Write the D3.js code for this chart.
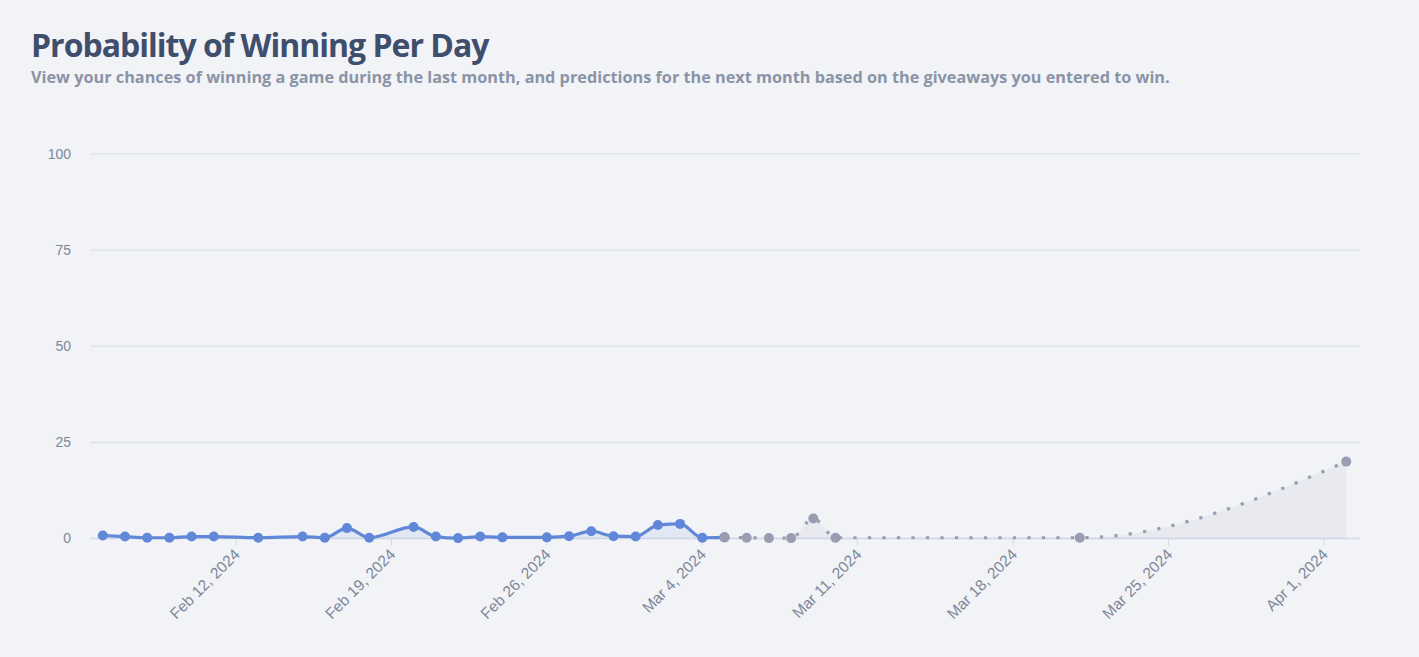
<!DOCTYPE html>
<html>
<head>
<meta charset="utf-8">
<script src="https://cdn.jsdelivr.net/npm/d3@7"></script>
<style>
  body { margin: 0; background: #f1f3f7; }
  svg text { font-family: "Liberation Sans", Arial, sans-serif; }
  .title { font-family: "Open Sans", sans-serif; font-weight: 700; }
</style>
</head>
<body>
<div id="chart"></div>
<script>
var width = 1419
var height = 657

// past month (blue) and prediction (grey), percent per day
const pastDates = ["2024-02-06","2024-02-07","2024-02-08","2024-02-09","2024-02-10","2024-02-11",
    "2024-02-13","2024-02-15","2024-02-16","2024-02-17","2024-02-18","2024-02-20","2024-02-21",
    "2024-02-22","2024-02-23","2024-02-24","2024-02-26","2024-02-27","2024-02-28","2024-02-29",
    "2024-03-01","2024-03-02","2024-03-03","2024-03-04","2024-03-05"];
const pastValues = [0.8, 0.5, 0.2, 0.2, 0.5, 0.5,
    0.2, 0.5, 0.2, 2.7, 0.2, 3.0, 0.5,
    0.1, 0.5, 0.3, 0.3, 0.6, 1.9, 0.6,
    0.5, 3.5, 3.8, 0.2, 0.3];
const predDates = ["2024-03-05","2024-03-06","2024-03-07","2024-03-08","2024-03-09","2024-03-10",
    "2024-03-21","2024-04-02"];
const predValues = [0.3, 0.2, 0.1, 0.1, 5.2, 0.2, 0.2, 20];
const yTicks = [0, 25, 50, 75, 100];
const xTickDates = ["2024-02-12","2024-02-19","2024-02-26","2024-03-04","2024-03-11","2024-03-18","2024-03-25","2024-04-01"];

const parse = d3.timeParse("%Y-%m-%d");
const fmt = d3.timeFormat("%b %-d, %Y");
const past = pastDates.map((d, i) => ({date: parse(d), value: pastValues[i]}));
const pred = predDates.map((d, i) => ({date: parse(d), value: predValues[i]}));

const plotLeft = 90, plotRight = 1360;

const svg = d3.select("#chart")
    .append("svg")
    .attr("width", width)
    .attr("height", height);

svg.append("text")
    .attr("class", "title")
    .attr("x", 31).attr("y", 57)
    .attr("font-size", 32)
    .attr("letter-spacing", -1)
    .attr("fill", "#3f4e6d")
    .text("Probability of Winning Per Day");

svg.append("text")
    .attr("class", "title")
    .attr("x", 31).attr("y", 83)
    .attr("font-size", 16.25)
    .attr("fill", "#8b93a6")
    .text("View your chances of winning a game during the last month, and predictions for the next month based on the giveaways you entered to win.");

const x = d3.scaleTime()
    .domain([parse(xTickDates[0]), parse(xTickDates[xTickDates.length - 1])])
    .range([236, 1324]);
const y = d3.scaleLinear()
    .domain([0, 100])
    .range([538.5, 154]);

// grid + y labels
svg.append("g")
    .selectAll("line")
    .data(yTicks.slice(1))
    .enter()
    .append("line")
    .attr("x1", plotLeft).attr("x2", plotRight)
    .attr("y1", d => y(d)).attr("y2", d => y(d))
    .style("stroke", "#d8dbe3")
    .style("stroke-width", "1px");

svg.append("g")
    .selectAll("text")
    .data(yTicks)
    .enter()
    .append("text")
    .attr("x", 71)
    .attr("y", d => y(d))
    .attr("dy", "0.35em")
    .attr("text-anchor", "end")
    .attr("font-size", 14)
    .attr("fill", "#7e879a")
    .text(d => d);

// x axis
const xAxis = svg.append("g");
xAxis.append("line")
    .attr("x1", plotLeft).attr("x2", plotRight)
    .attr("y1", y(0)).attr("y2", y(0))
    .style("stroke", "#d3d9e8")
    .style("stroke-width", "1.5px");
const ticks = xAxis.selectAll("g.tick")
    .data(xTickDates.map(parse))
    .enter()
    .append("g")
    .attr("class", "tick")
    .attr("transform", d => "translate(" + x(d) + ",0)");
ticks.append("line")
    .attr("y1", y(0)).attr("y2", y(0) + 7)
    .style("stroke", "#d3d9e8");
ticks.append("text")
    .attr("transform", "translate(1," + (y(0) + 13) + ") rotate(-45)")
    .attr("text-anchor", "end")
    .attr("dy", "0.35em")
    .attr("font-size", 15.5)
    .attr("fill", "#7e879a")
    .text(d => fmt(d));

const line = d3.line()
    .x(d => x(d.date)).y(d => y(d.value))
    .curve(d3.curveMonotoneX);
const area = d3.area()
    .x(d => x(d.date)).y0(y(0)).y1(d => y(d.value))
    .curve(d3.curveMonotoneX);

const blue = "#6188d8";
const grey = "#9a9db1";

svg.append("path").datum(past).attr("d", area)
    .attr("fill", blue).attr("fill-opacity", 0.1);
svg.append("path").datum(pred).attr("d", area)
    .attr("fill", grey).attr("fill-opacity", 0.1);

svg.append("path").datum(past).attr("d", line)
    .attr("fill", "none")
    .style("stroke", blue)
    .style("stroke-width", "3.2px");
svg.append("path").datum(pred).attr("d", line)
    .attr("fill", "none")
    .style("stroke", grey)
    .style("stroke-width", "3.2px")
    .style("stroke-dasharray", "3.2 11.3");

svg.append("g")
    .selectAll("circle")
    .data(past)
    .enter()
    .append("circle")
    .attr("cx", d => x(d.date)).attr("cy", d => y(d.value))
    .attr("r", 5)
    .attr("fill", blue);
svg.append("g")
    .selectAll("circle")
    .data(pred)
    .enter()
    .append("circle")
    .attr("cx", d => x(d.date)).attr("cy", d => y(d.value))
    .attr("r", 5)
    .attr("fill", grey);
</script>
</body>
</html>
